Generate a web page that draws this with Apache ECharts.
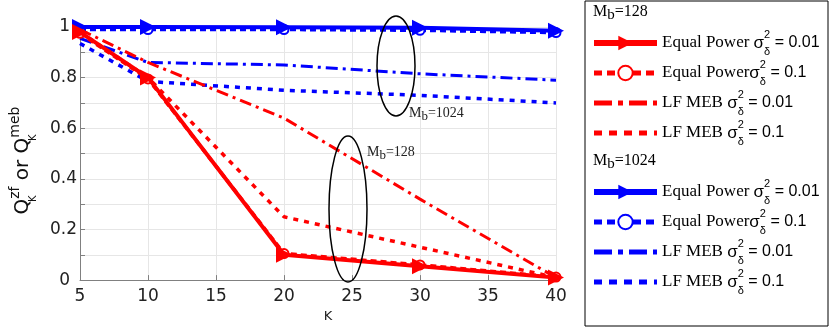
<!DOCTYPE html>
<html>
<head>
<meta charset="utf-8">
<script src="https://cdn.jsdelivr.net/npm/echarts@6/dist/echarts.min.js"></script>
<style>
  html, body { margin: 0; padding: 0; background: #fff; }
  #chart { width: 830px; height: 328px; }
</style>
</head>
<body>
<div id="chart"></div>
<script>
// 横轴：用户数 K
const kValues = [5, 10, 20, 30, 40];

// Mb = 128（红色）
const red128EqualP001 = [0.98, 0.80, 0.10, 0.055, 0.01];
const red128EqualP01 = [0.975, 0.795, 0.105, 0.06, 0.012];
const red128LfMeb001 = [0.99, 0.86, 0.64, 0.32, 0.01];
const red128LfMeb01 = [0.98, 0.80, 0.25, 0.13, 0.01];

// Mb = 1024（蓝色）
const blue1024EqualP001 = [1.0, 1.0, 0.999, 0.997, 0.985];
const blue1024EqualP01 = [0.99, 0.99, 0.99, 0.987, 0.978];
const blue1024LfMeb001 = [0.955, 0.86, 0.85, 0.815, 0.79];
const blue1024LfMeb01 = [0.935, 0.785, 0.75, 0.73, 0.70];

// 图例文字
const legendLabels = {
    r1: '{t|Equal Power }{s|σ}{d|δ}{p|2}{v| = 0.01}',
    r2: '{t|Equal Power}{s|σ}{d|δ}{p|2}{v| = 0.1}',
    r3: '{t|LF MEB }{s|σ}{d|δ}{p|2}{v| = 0.01}',
    r4: '{t|LF MEB }{s|σ}{d|δ}{p|2}{v| = 0.1}',
    b1: '{t|Equal Power }{s|σ}{d|δ}{p|2}{v| = 0.01}',
    b2: '{t|Equal Power}{s|σ}{d|δ}{p|2}{v| = 0.1}',
    b3: '{t|LF MEB }{s|σ}{d|δ}{p|2}{v| = 0.01}',
    b4: '{t|LF MEB }{s|σ}{d|δ}{p|2}{v| = 0.1}'
};

const RED = '#ff0000';
const BLUE = '#0000ff';

function pairs(ys) {
    return kValues.map((k, i) => [k, ys[i]]);
}

function equalSolid(name, color, ys) {
    return {
        name, type: 'line', data: pairs(ys),
        symbol: 'triangle', symbolSize: 16, symbolRotate: -90,
        lineStyle: { color, width: 4, type: 'solid' },
        itemStyle: { color },
        z: 4
    };
}

function equalDashed(name, color, ys) {
    return {
        name, type: 'line', data: pairs(ys),
        symbol: 'emptyCircle', symbolSize: 9,
        lineStyle: { color, width: 3.5, type: [6, 4] },
        itemStyle: { color, borderColor: color, borderWidth: 2.5 },
        z: 3
    };
}

function lfDashDot(name, color, ys) {
    return {
        name, type: 'line', data: pairs(ys),
        symbol: 'none',
        lineStyle: { color, width: 3, type: [12, 5, 3, 5] },
        itemStyle: { color },
        z: 2
    };
}

function lfDotted(name, color, ys) {
    return {
        name, type: 'line', data: pairs(ys),
        symbol: 'none',
        lineStyle: { color, width: 3.5, type: [5, 6] },
        itemStyle: { color },
        z: 2
    };
}

const legendRich = {
    t: { fontFamily: 'Liberation Serif', fontSize: 17, color: '#000', lineHeight: 28 },
    s: { fontFamily: 'Liberation Sans', fontSize: 17, color: '#000', lineHeight: 28 },
    d: { fontFamily: 'Liberation Sans', fontSize: 11, color: '#000', lineHeight: 14, verticalAlign: 'bottom', width: 0 },
    p: { fontFamily: 'Liberation Sans', fontSize: 11, color: '#000', lineHeight: 14, verticalAlign: 'top' },
    v: { fontFamily: 'Liberation Sans', fontSize: 16, color: '#000', lineHeight: 28 }
};

// 图例图标：线条比图中更粗；没有标记的系列不画标记
function legendItem(name) {
    const kind = name.slice(-1);
    if (kind === '1') return { name, lineStyle: { width: 6 } };
    if (kind === '2') return { name, lineStyle: { width: 5, type: [8, 5] } };
    if (kind === '3') {
        return {
            name, lineStyle: { width: 5, type: [18, 6, 5, 6] },
            itemStyle: { opacity: 0, color: 'transparent', borderColor: 'transparent' }
        };
    }
    return {
        name, lineStyle: { width: 5, type: [8, 7] },
        itemStyle: { opacity: 0, color: 'transparent', borderColor: 'transparent' }
    };
}

function makeLegend(names, top) {
    return {
        data: names.map(legendItem),
        orient: 'vertical',
        left: 591,
        top,
        padding: 0,
        itemWidth: 63,
        itemHeight: 18,
        itemGap: 2,
        selectedMode: false,
        formatter: name => legendLabels[name],
        textStyle: { rich: legendRich }
    };
}

const chart = echarts.init(document.getElementById('chart'));

chart.setOption({
    animation: false,
    backgroundColor: '#fff',
    grid: { left: 80, right: 274, top: 27, bottom: 40, containLabel: false },
    xAxis: {
        type: 'value',
        min: 5, max: 40, interval: 5,
        name: 'K',
        nameLocation: 'middle',
        nameGap: 22,
        nameTextStyle: { fontFamily: 'DejaVu Sans', fontSize: 13, color: '#222', padding: [0, 0, 0, 20] },
        axisLine: { show: true, lineStyle: { color: '#808080', width: 1 } },
        axisTick: { inside: true, length: 5, lineStyle: { color: '#808080' } },
        axisLabel: { fontFamily: 'DejaVu Sans', fontSize: 17, color: '#222', margin: 8 },
        splitLine: { show: true, lineStyle: { color: '#e6e6e6', width: 1 } }
    },
    yAxis: {
        type: 'value',
        min: 0, max: 1, interval: 0.1,
        name: '{q|Q}{k|K}{z|zf}{q| or Q}{k|K}{z|meb}',
        nameLocation: 'middle',
        nameRotate: 90,
        nameGap: 42,
        nameTextStyle: {
            padding: [0, 14, 0, 0],
            rich: {
                q: { fontFamily: 'DejaVu Sans', fontSize: 20, color: '#111', lineHeight: 30 },
                k: { fontFamily: 'DejaVu Sans', fontSize: 10, color: '#111', lineHeight: 13, verticalAlign: 'bottom', width: 0 },
                z: { fontFamily: 'DejaVu Sans', fontSize: 14, color: '#111', lineHeight: 13, verticalAlign: 'top' }
            }
        },
        axisLine: { show: true, lineStyle: { color: '#808080', width: 1 } },
        axisTick: { inside: true, length: 5, lineStyle: { color: '#808080' } },
        axisLabel: {
            fontFamily: 'DejaVu Sans', fontSize: 17, color: '#222', margin: 3,
            formatter: v => {
                const t = Math.round(v * 10);
                if (t % 2 !== 0) return '';
                if (t === 0 || t === 10) return '{e|' + (t / 10) + '}';
                return String(t / 10);
            },
            rich: { e: { fontFamily: 'DejaVu Sans', fontSize: 17, color: '#222', padding: [0, 7, 0, 0] } }
        },
        splitLine: { show: true, lineStyle: { color: '#e6e6e6', width: 1 } }
    },
    legend: [
        makeLegend(['r1', 'r2', 'r3', 'r4'], 29),
        makeLegend(['b1', 'b2', 'b3', 'b4'], 178)
    ],
    graphic: [
        {
            type: 'rect', silent: true,
            shape: { x: 585, y: 1, width: 243, height: 325 },
            style: { fill: 'none', stroke: '#000', lineWidth: 1 }
        },
        {
            type: 'text', left: 593, top: 4, silent: true,
            style: {
                text: 'M{b|b}=128',
                fontFamily: 'Liberation Serif', fontSize: 16, fill: '#000',
                rich: { b: { fontFamily: 'Liberation Serif', fontSize: 15, verticalAlign: 'bottom', lineHeight: 22 } }
            }
        },
        {
            type: 'text', left: 593, top: 153, silent: true,
            style: {
                text: 'M{b|b}=1024',
                fontFamily: 'Liberation Serif', fontSize: 16, fill: '#000',
                rich: { b: { fontFamily: 'Liberation Serif', fontSize: 15, verticalAlign: 'bottom', lineHeight: 22 } }
            }
        },
        {
            type: 'ellipse', silent: true, z: 10,
            shape: { cx: 396, cy: 66, rx: 19, ry: 50 },
            style: { fill: 'none', stroke: '#000', lineWidth: 1.5 }
        },
        {
            type: 'ellipse', silent: true, z: 10,
            shape: { cx: 348, cy: 209, rx: 19, ry: 73 },
            style: { fill: 'none', stroke: '#000', lineWidth: 1.5 }
        },
        {
            type: 'text', left: 409, top: 106, silent: true, z: 10,
            style: {
                text: 'M{b|b}=1024',
                fontFamily: 'Liberation Serif', fontSize: 14, fill: '#222',
                rich: { b: { fontFamily: 'Liberation Serif', fontSize: 13, verticalAlign: 'bottom', lineHeight: 20 } }
            }
        },
        {
            type: 'text', left: 367, top: 145, silent: true, z: 10,
            style: {
                text: 'M{b|b}=128',
                fontFamily: 'Liberation Serif', fontSize: 14, fill: '#222',
                rich: { b: { fontFamily: 'Liberation Serif', fontSize: 13, verticalAlign: 'bottom', lineHeight: 20 } }
            }
        }
    ],
    series: [
        lfDotted('b4', BLUE, blue1024LfMeb01),
        lfDashDot('b3', BLUE, blue1024LfMeb001),
        equalDashed('b2', BLUE, blue1024EqualP01),
        equalSolid('b1', BLUE, blue1024EqualP001),
        lfDotted('r4', RED, red128LfMeb01),
        lfDashDot('r3', RED, red128LfMeb001),
        equalDashed('r2', RED, red128EqualP01),
        equalSolid('r1', RED, red128EqualP001)
    ]
});
</script>
</body>
</html>
